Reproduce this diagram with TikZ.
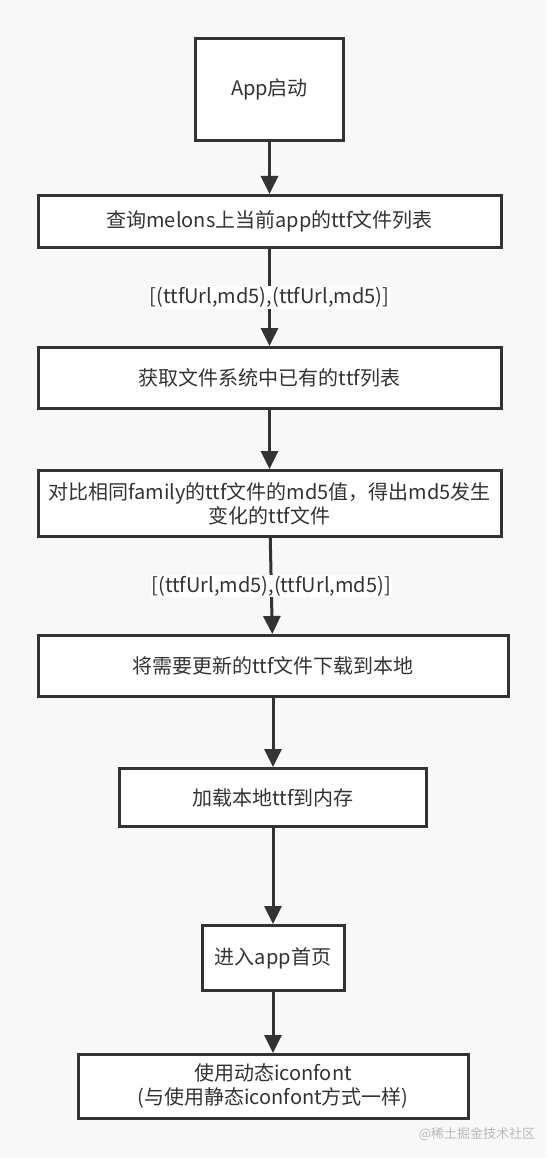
\documentclass[tikz,border=0pt]{standalone}
\usepackage{fontspec}
\newfontfamily\cjk{Noto Sans CJK SC}
\usepackage{xcolor}
\usetikzlibrary{arrows.meta, positioning}

\definecolor{linegray}{RGB}{51,51,51}
\definecolor{pagebg}{RGB}{248,248,248}
\definecolor{markgray}{RGB}{185,185,185}

\begin{document}
\begin{tikzpicture}[
    x=1pt, y=1pt,
    font=\cjk\fontsize{20}{24}\selectfont,
    flowbox/.style={
        rectangle,
        draw=linegray,
        line width=3pt,
        fill=white,
        text=linegray,
        align=center,
        inner sep=0pt
    },
    arrow/.style={
        -{Triangle[width=17pt,length=18pt]},
        line width=3pt,
        color=linegray
    },
    datalabel/.style={
        fill=white,
        text=linegray,
        inner sep=1pt
    }
]

% page
\fill[pagebg] (0,0) rectangle (546,-1158);
\useasboundingbox (0,0) rectangle (546,-1158);

% boxes, top to bottom
\node[flowbox, minimum width=148pt, minimum height=102pt] (start) at (269.5,-89.5) {App启动};
\node[flowbox, minimum width=463pt, minimum height=52pt, below=52pt of start] (query) {查询melons上当前app的ttf文件列表};
\node[flowbox, minimum width=463pt, minimum height=61pt, below=97pt of query] (local) {获取文件系统中已有的ttf列表};
\node[flowbox, minimum width=463pt, minimum height=66pt, below=59pt of local] (compare) {对比相同family的ttf文件的md5值，得出md5发生\\变化的ttf文件};
\node[flowbox, minimum width=470pt, minimum height=61pt, below=96pt of compare, xshift=3.5pt] (download) {将需要更新的ttf文件下载到本地};
\node[flowbox, minimum width=307pt, minimum height=58pt, below=69pt of download] (load) {加载本地ttf到内存};
\node[flowbox, minimum width=142pt, minimum height=65pt, below=96pt of load] (home) {进入app首页};
\node[flowbox, minimum width=390pt, minimum height=64pt, below=61pt of home] (use) {使用动态iconfont\\(与使用静态iconfont方式一样)};

% watermark
\node[text=markgray, font=\cjk\fontsize{13}{15}\selectfont] (mark) at (477,-1134) {@稀土掘金技术社区};

% arrows
\draw[arrow] (start) -- (query);
\draw[arrow] (query) -- node[datalabel] {[(ttfUrl,md5),(ttfUrl,md5)]} (local);
\draw[arrow] (local) -- (compare);
\draw[arrow] (compare) -- node[datalabel] {[(ttfUrl,md5),(ttfUrl,md5)]} (download);
\draw[arrow] (download) -- (load);
\draw[arrow] (load) -- (home);
\draw[arrow] (home) -- (use);

\end{tikzpicture}
\end{document}
